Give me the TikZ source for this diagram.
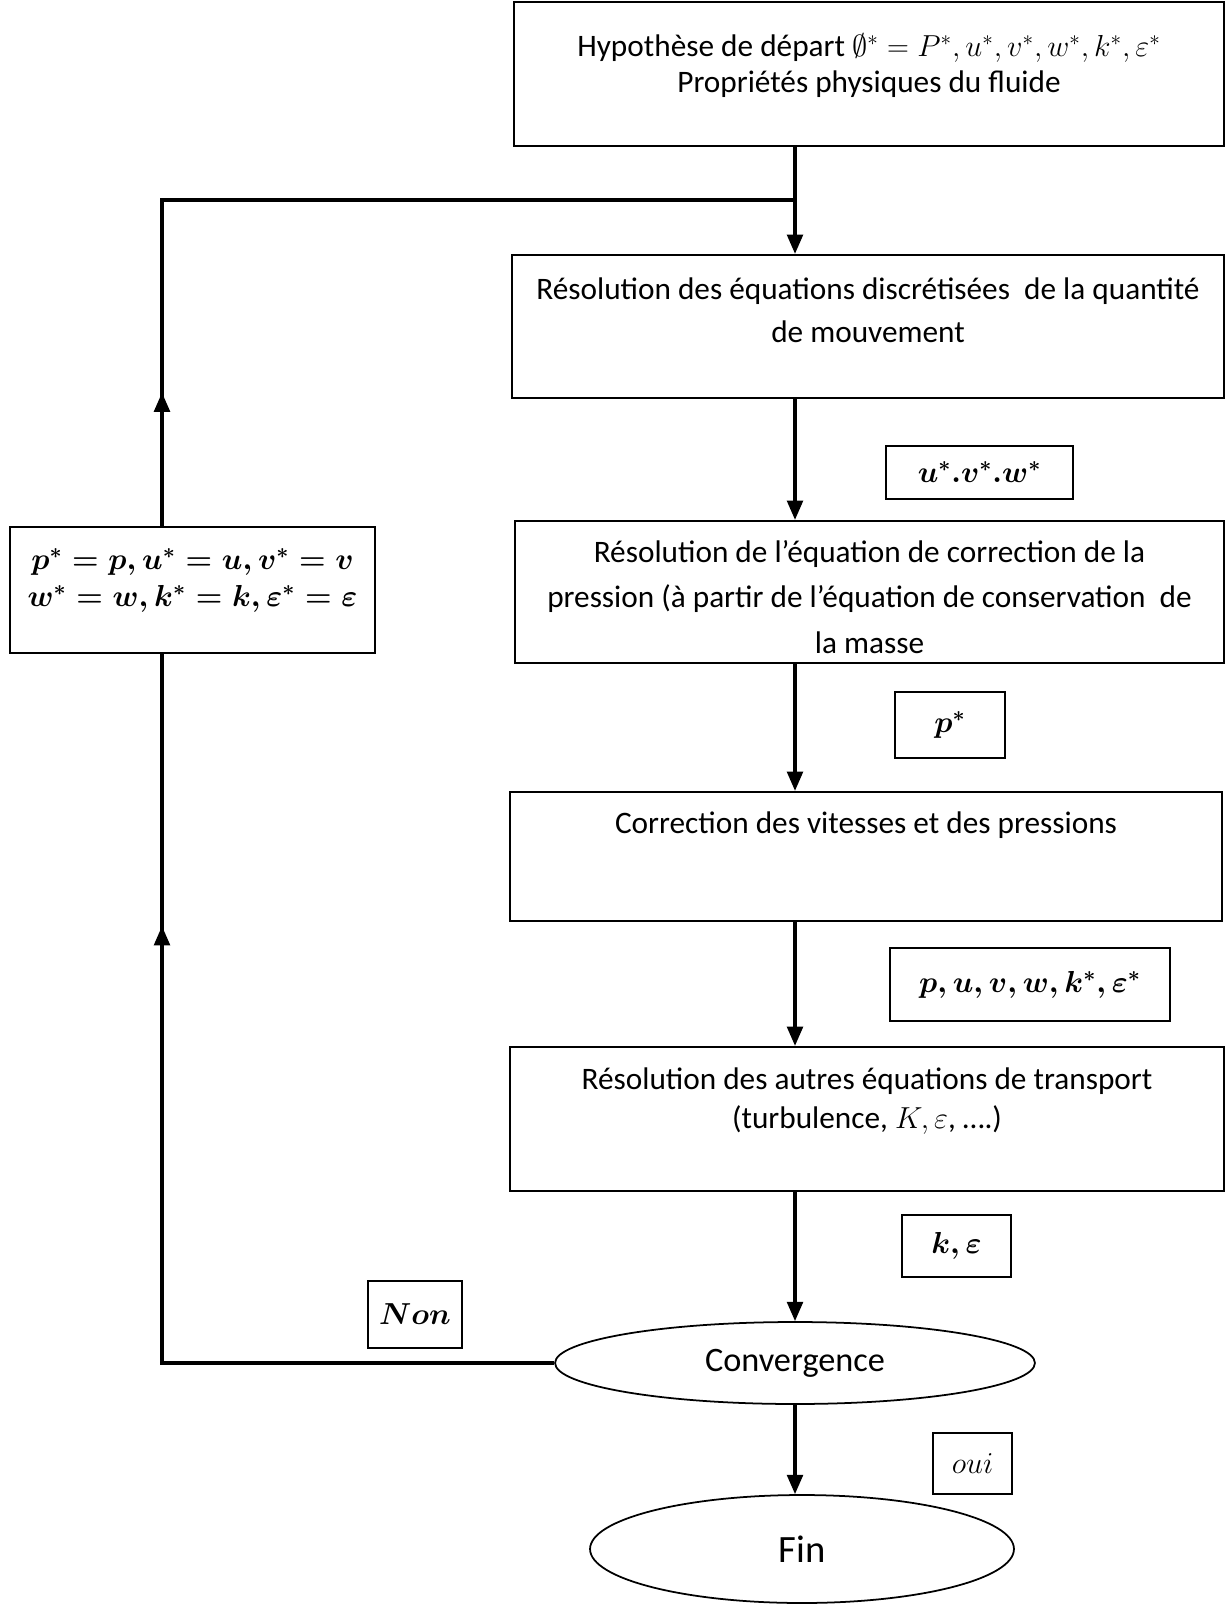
\documentclass[tikz,border=0pt]{standalone}
\usepackage{fontspec}
\setmainfont{Carlito}
\usepackage{amsmath,amssymb}
\usetikzlibrary{positioning,shapes.geometric,arrows.meta,decorations.markings}
\begin{document}
\begin{tikzpicture}[x=0.02cm,y=-0.02cm,
  every node/.style={font=\fontsize{17.8}{22}\selectfont},
  stepbox/.style={draw,line width=1.3pt,inner sep=0pt},
  txt/.style={inner sep=0pt,align=center},
  lbl/.style={draw,line width=1.3pt,inner sep=0pt,font=\fontsize{17}{22}\selectfont\boldmath},
  oval/.style={draw,ellipse,line width=1pt,inner sep=0pt},
  link/.style={line width=1.8pt},
  arr/.style={line width=1.8pt,-{Triangle[length=11pt,width=9pt]}},
  tipat/.style={postaction={decorate},decoration={markings,
    mark=at position #1 with {\arrow{Triangle[length=11pt,width=9pt]}}}}]
\useasboundingbox (0,0) rectangle (1226,1604);
\node[stepbox,minimum width=14.2cm,minimum height=2.88cm] (b0) at (869,74) {};
\node[stepbox,minimum width=14.24cm,minimum height=2.86cm] (b1) at (868,326.5) {};
\node[stepbox,minimum width=14.18cm,minimum height=2.84cm] (b2) at (869.5,592) {};
\node[stepbox,minimum width=14.24cm,minimum height=2.58cm] (b3) at (866,856.5) {};
\node[stepbox,minimum width=14.28cm,minimum height=2.88cm] (b4) at (867,1119) {};
\node[stepbox,minimum width=7.3cm,minimum height=2.52cm] (bL) at (192.5,590) {};
\node[txt,font=\fontsize{17.8}{20.5}\selectfont,below=0.66cm of b0.north] (t0)
  {Hypothèse de départ $\emptyset^{*}=P^{*},u^{*},v^{*},w^{*},k^{*},\varepsilon^{*}$\\Propriétés physiques du fluide};
\node[txt,font=\fontsize{17.8}{24.4}\selectfont,below=0.48cm of b1.north] (t1)
  {Résolution des équations discrétisées\ \ de la quantité\\de mouvement};
\node[txt,font=\fontsize{17.8}{26}\selectfont,below=0.4cm of b2.north] (t2)
  {Résolution de l’équation de correction de la\\pression (à partir de l’équation de conservation\ \ de\\la masse};
\node[txt,below=0.42cm of b3.north] (t3) {Correction des vitesses et des pressions};
\node[txt,below=0.44cm of b4.north] (t4)
  {Résolution des autres équations de transport\\(turbulence, $K,\varepsilon$, ….)};
\node[txt,font=\fontsize{17}{21}\selectfont\boldmath,below=0.44cm of bL.north] (tL)
  {$p^{*}=p,u^{*}=u,v^{*}=v$\\$w^{*}=w,k^{*}=k,\varepsilon^{*}=\varepsilon$};
\node[lbl,minimum width=3.74cm,minimum height=1.06cm] (l1) at (979.5,472.5) {$u^{*}.v^{*}.w^{*}$};
\node[lbl,minimum width=2.2cm,minimum height=1.32cm] (l2) at (950,725) {$p^{*}$};
\node[lbl,minimum width=5.6cm,minimum height=1.46cm] (l3) at (1030,984.5) {$p,u,v,w,k^{*},\varepsilon^{*}$};
\node[lbl,minimum width=2.18cm,minimum height=1.24cm] (l4) at (956.5,1246) {$k,\varepsilon$};
\node[lbl,minimum width=1.88cm,minimum height=1.34cm] (non) at (415,1314.5) {$Non$};
\node[lbl,font=\fontsize{17}{22}\selectfont,minimum width=1.58cm,minimum height=1.22cm] (oui) at (972.5,1463.5) {$oui$};
\node[oval,font=\fontsize{19.5}{24}\selectfont,minimum width=9.6cm,minimum height=1.64cm] (conv) at (795,1363) {Convergence};
\node[oval,font=\fontsize{22}{26}\selectfont,minimum width=8.48cm,minimum height=2.16cm] (fin) at (802,1549) {Fin};
\coordinate (j) at (795,200);
\coordinate (lx) at (162,200);
\draw[arr] (b0.south -| j) -- (b1.north -| j);
\draw[arr] (b1.south -| j) -- (b2.north -| j);
\draw[arr] (b2.south -| j) -- (b3.north -| j);
\draw[arr] (b3.south -| j) -- (b4.north -| j);
\draw[arr] (b4.south -| j) -- (conv.north);
\draw[arr] (conv.south) -- (fin.north -| conv.south);
\draw[link,tipat=0.753] (conv.west) -- (conv.west -| lx) -- (bL.south -| lx);
\draw[link,tipat=0.139] (bL.north -| lx) -- (lx) -- (j);
\end{tikzpicture}
\end{document}
